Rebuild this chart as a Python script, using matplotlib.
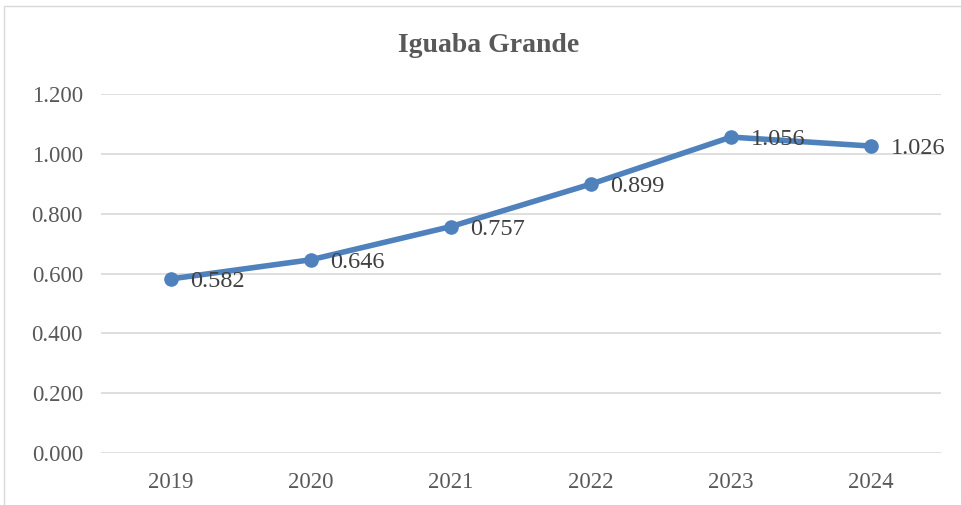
import matplotlib.pyplot as plt
from matplotlib.patches import Rectangle

years = ["2019", "2020", "2021", "2022", "2023", "2024"]
values = [0.582, 0.646, 0.757, 0.899, 1.056, 1.026]
y_ticks = [0.0, 0.2, 0.4, 0.6, 0.8, 1.0, 1.2]

plt.rcParams["font.family"] = ["Liberation Serif", "DejaVu Serif"]
text_color = "#595959"
line_color = "#4F81BD"

fig = plt.figure(figsize=(9.61, 5.05), dpi=100)
ax = fig.add_axes([101 / 961, 1 - 453 / 505, 840 / 961, 359 / 505])

# chart area border (only top/left visible in the original crop)
fig.patches.append(Rectangle((4 / 961, -0.1), 1.2, 1.1 - 6 / 505, transform=fig.transFigure,
                             fill=False, edgecolor="#D9D9D9", linewidth=1))

x = list(range(len(years)))
ax.plot(x, values, color=line_color, linewidth=4, marker="o", markersize=9.5,
        solid_capstyle="round", zorder=3)

for xi, v in zip(x, values):
    ax.annotate(f"{v:.3f}", (xi, v), xytext=(14, -2), textcoords="offset points",
                ha="left", va="center", fontsize=17.5, color="#404040", zorder=4)

ax.set_xlim(-0.5, len(years) - 0.5)
ax.set_ylim(0, 1.2)
ax.set_yticks(y_ticks)
ax.set_yticklabels([f"{t:.3f}" for t in y_ticks])
ax.set_xticks(x)
ax.set_xticklabels(years)
ax.tick_params(length=0, labelsize=16.5, labelcolor=text_color)
ax.tick_params(axis="x", pad=14)
ax.tick_params(axis="y", pad=13)
ax.grid(axis="y", color="#D9D9D9", linewidth=1.2)
ax.set_axisbelow(True)
for s in ax.spines.values():
    s.set_visible(False)

fig.text(489 / 961, 1 - 45 / 505, "Iguaba Grande", ha="center", va="center",
         fontsize=20, fontweight="bold", color=text_color)

fig.savefig("out.png", dpi=100)
